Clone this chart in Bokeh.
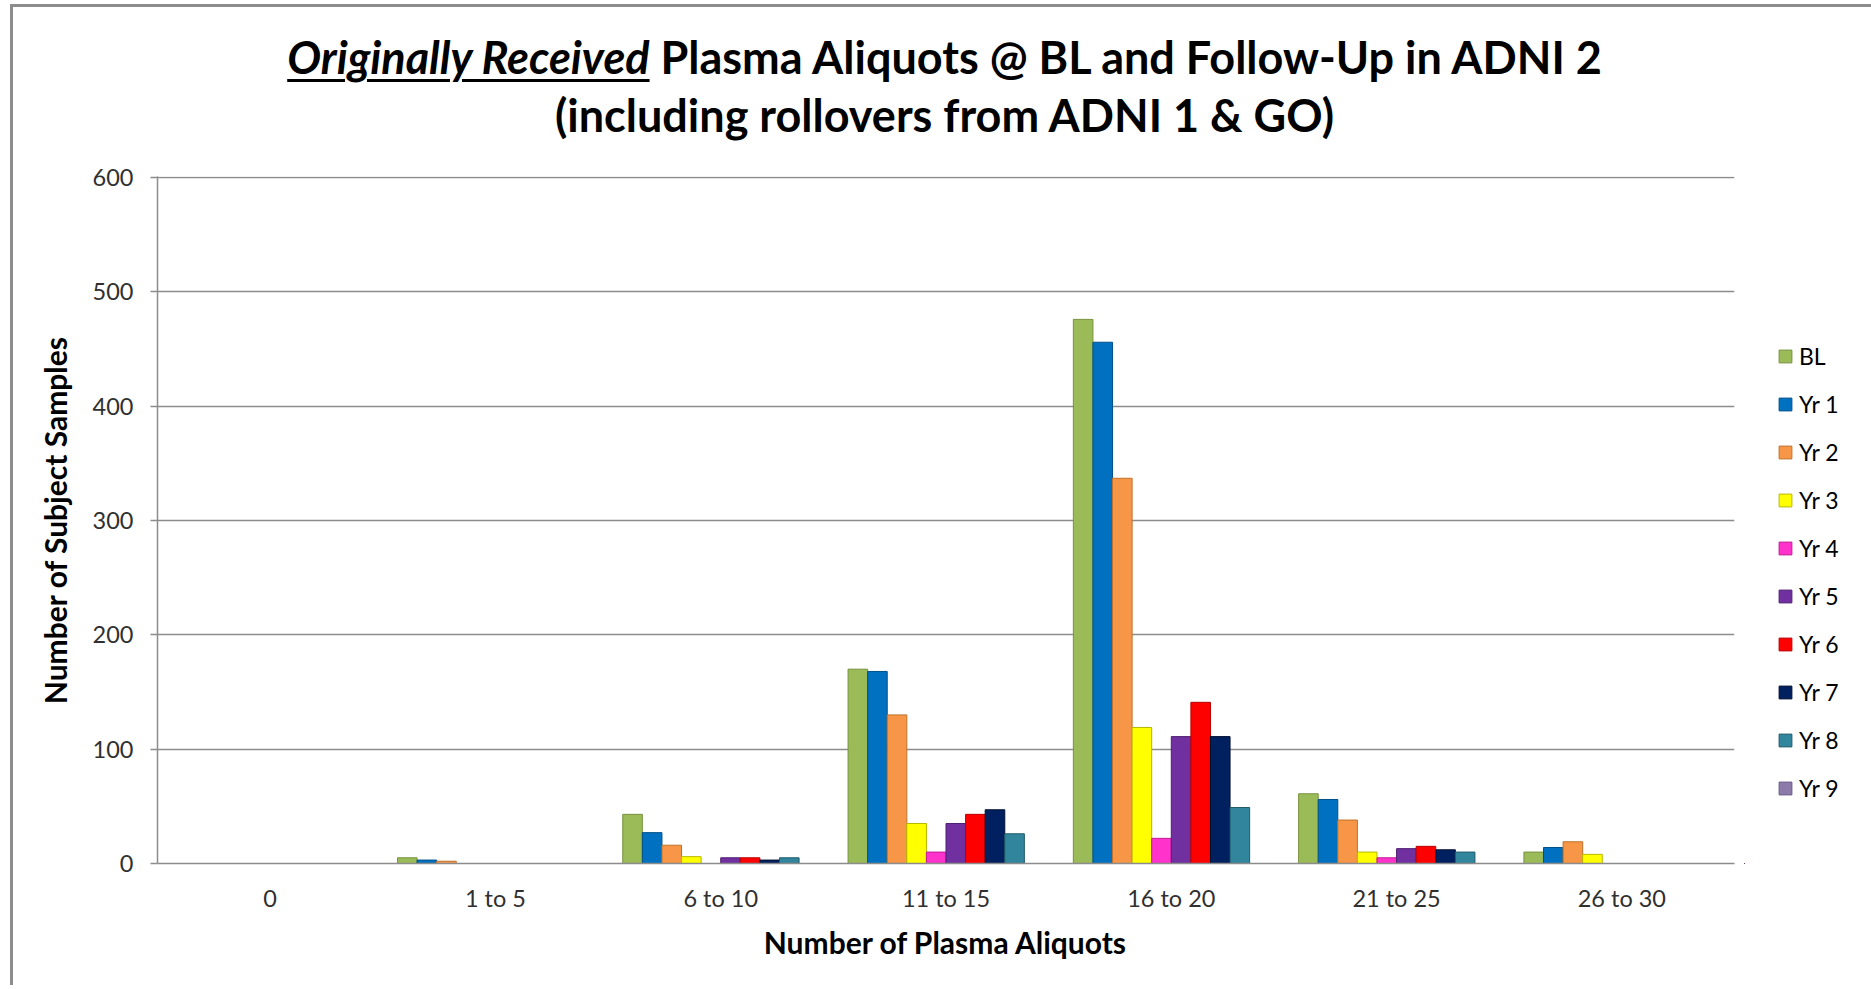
from bokeh.plotting import figure
from bokeh.models import (FactorRange, Range1d, ColumnDataSource, FixedTicker,
                          Legend, LegendItem, Div)
from bokeh.layouts import column, row
from bokeh.transform import dodge
from bokeh.embed import file_html
from bokeh.resources import INLINE

# ---------------- data ----------------
categories = ["0", "1 to 5", "6 to 10", "11 to 15", "16 to 20", "21 to 25", "26 to 30"]
series_names = ["BL", "Yr 1", "Yr 2", "Yr 3", "Yr 4", "Yr 5", "Yr 6", "Yr 7", "Yr 8", "Yr 9"]
bl  = [0, 5, 43, 170, 476, 61, 10]
yr1 = [0, 3, 27, 168, 456, 56, 14]
yr2 = [0, 2, 16, 130, 337, 38, 19]
yr3 = [0, 0, 6, 35, 119, 10, 8]
yr4 = [0, 0, 0, 10, 22, 5, 0]
yr5 = [0, 0, 5, 35, 111, 13, 0]
yr6 = [0, 0, 5, 43, 141, 15, 0]
yr7 = [0, 0, 3, 47, 111, 12, 0]
yr8 = [0, 0, 5, 26, 49, 10, 0]
yr9 = [0, 0, 0, 0, 0, 0, 0]
y_ticks = [0, 100, 200, 300, 400, 500, 600]

title_part1 = "Originally Received"
title_part2 = "Plasma Aliquots @ BL and Follow-Up in ADNI 2"
title_line2 = "(including rollovers from ADNI 1 &amp; GO)"
x_title = "Number of Plasma Aliquots"
y_title = "Number of Subject Samples"

# ---------------- styles ----------------
fill_colors = ["#9BBB59", "#0070C0", "#F79646", "#FFFF00", "#FF33CC",
               "#7030A0", "#FF0000", "#002060", "#31859C", "#8C7BA8"]
line_colors = ["#76923C", "#00508A", "#C0702A", "#B8B800", "#C01C96",
               "#4E1F72", "#B80000", "#000F30", "#205A6A", "#675889"]
FONT = "Lato"
GRAY = "#8c8c8c"

WTOT, HT, HF = 1853, 130, 838        # total inner width, title height, figure height
WP = 1731                             # main figure width
WL = WTOT - WP                        # legend figure width
FL, FR, FT, FB = 144, 1721, 29, 716   # frame edges in main figure canvas px

title_html = (
    f'<div style="width:{WTOT}px;text-align:center;font-family:Lato;font-weight:bold;'
    f'font-size:45px;line-height:58px;color:black;padding-top:16px;">'
    f'<span style="font-style:italic;text-decoration:underline;'
    f'text-decoration-thickness:3px;text-underline-offset:5px;">{title_part1}</span> '
    f'{title_part2}<br>{title_line2}</div>'
)
title_div = Div(text=title_html, width=WTOT, height=HT)

src = ColumnDataSource(dict(cat=categories, BL=bl, Yr1=yr1, Yr2=yr2, Yr3=yr3, Yr4=yr4,
                            Yr5=yr5, Yr6=yr6, Yr7=yr7, Yr8=yr8, Yr9=yr9))
cols = ["BL", "Yr1", "Yr2", "Yr3", "Yr4", "Yr5", "Yr6", "Yr7", "Yr8", "Yr9"]

p = figure(x_range=FactorRange(*categories, range_padding=0), y_range=Range1d(0, 601),
           width=WP, height=HF, output_backend="svg", toolbar_location=None,
           min_border_left=FL, min_border_right=WP - FR, min_border_top=FT,
           min_border_bottom=HF - FB)
p.outline_line_color = None
p.background_fill_color = "white"
p.border_fill_color = "white"

p.xgrid.grid_line_color = None
p.ygrid.grid_line_color = GRAY
p.ygrid.grid_line_width = 1.5
p.yaxis.ticker = FixedTicker(ticks=y_ticks)

for ax in (p.xaxis[0], p.yaxis[0]):
    ax.axis_line_color = GRAY
    ax.axis_line_width = 1.5
    ax.major_tick_line_color = GRAY
    ax.major_tick_line_width = 1.5
    ax.minor_tick_line_color = None
    ax.major_label_text_font = FONT
    ax.major_label_text_font_size = "23.5px"
    ax.major_label_text_color = "#303030"
    ax.axis_label_text_font = FONT
    ax.axis_label_text_font_size = "30px"
    ax.axis_label_text_font_style = "bold"
    ax.axis_label_text_color = "black"

p.yaxis.major_tick_out = 7
p.yaxis.major_tick_in = 0
p.yaxis.major_label_standoff = 17
p.yaxis.axis_label = y_title
p.yaxis.axis_label_standoff = 17

p.xaxis.major_tick_out = 0
p.xaxis.major_tick_in = 0
p.xaxis.major_label_standoff = 20
p.xaxis.axis_label = x_title
p.xaxis.axis_label_standoff = 9

n = len(cols)
bw = 1.0 / (n + 1.5)
for j, c in enumerate(cols):
    off = (j - (n - 1) / 2) * bw
    p.vbar(x=dodge("cat", off, range=p.x_range), top=c, width=bw, bottom=0,
           source=src, fill_color=fill_colors[j], line_color=line_colors[j],
           line_width=1)

# legend lives in a small side figure so it is not clipped by the plot frame;
# its swatch renderers hold one point placed outside the visible range
lf = figure(width=WL, height=HF, output_backend="svg", toolbar_location=None,
            x_range=Range1d(0, 1), y_range=Range1d(0, 1),
            min_border=0, min_border_left=0, min_border_right=0,
            min_border_top=0, min_border_bottom=0)
lf.axis.visible = False
lf.grid.visible = False
lf.outline_line_color = None
items = []
for j, name in enumerate(series_names):
    r = lf.vbar(x=[-5], top=[-5], bottom=[-6], width=0.1, fill_color=fill_colors[j],
                line_color=line_colors[j], line_width=1)
    items.append(LegendItem(label=name, renderers=[r]))

legend = Legend(items=items, location=(33, 61), orientation="vertical",
                glyph_width=16, glyph_height=16, label_height=16, spacing=20,
                label_standoff=6, padding=0, margin=0,
                label_text_font=FONT, label_text_font_size="23px",
                label_text_color="black", border_line_color=None,
                background_fill_alpha=0)
lf.add_layout(legend)

layout = column(title_div, row(p, lf, spacing=0), spacing=0,
                styles={"border-left": f"3px solid {GRAY}",
                        "border-top": f"3px solid {GRAY}",
                        "border-right": f"3px solid {GRAY}",
                        "margin-left": "10px", "margin-top": "4px"})

open("out.html", "w").write(file_html(layout, INLINE))
